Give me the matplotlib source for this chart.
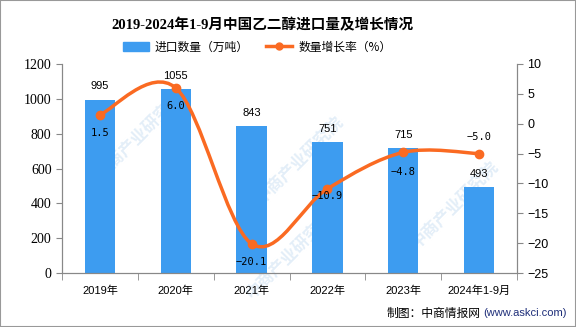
import numpy as np
import matplotlib.pyplot as plt
from matplotlib.path import Path
from matplotlib.patches import PathPatch, Rectangle
from matplotlib.lines import Line2D
from matplotlib.patches import Patch

plt.rcParams['font.family'] = ['Noto Sans CJK SC', 'DejaVu Sans']

categories = ['2019年', '2020年', '2021年', '2022年', '2023年', '2024年1-9月']
imports = [995, 1055, 843, 751, 715, 493]
growth = [1.5, 6.0, -20.1, -10.9, -4.8, -5.0]

bar_color = '#3d9cf0'
line_color = '#fa6a22'

fig = plt.figure(figsize=(5.76, 3.27), dpi=100)

# faint watermarks behind everything
for wx, wy in [(140, 135), (300, 160), (455, 205), (290, 255)]:
    fig.text(wx/576, 1-wy/327, '中商产业研究院', rotation=45, fontsize=12,
             color='#e3eef8', ha='center', va='center', zorder=-1, fontweight='bold')

ax = fig.add_axes([62/576, 1-273/327, 455/576, 209/327])
ax2 = ax.twinx()
ax.patch.set_visible(False)

x = np.arange(len(categories))
ax.bar(x, imports, width=0.4, color=bar_color, zorder=2)
ax.set_xlim(-0.5, len(categories) - 0.5)
ax.set_ylim(0, 1200)
ax.set_yticks(range(0, 1201, 200))
ax2.set_ylim(-25, 10)
ax2.set_yticks(range(-25, 11, 5))

for xi, v in zip(x, imports):
    ax.annotate(str(v), (xi, v), xytext=(0, 6), textcoords='offset points',
                ha='center', va='bottom', fontsize=8, family='Liberation Sans')

# smooth line through the points (Catmull-Rom style bezier)
pts = np.column_stack([x, growth]).astype(float)
verts = [tuple(pts[0])]
codes = [Path.MOVETO]
n = len(pts)
for i in range(n - 1):
    p0 = pts[max(i - 1, 0)]
    p1 = pts[i]
    p2 = pts[i + 1]
    p3 = pts[min(i + 2, n - 1)]
    c1 = p1 + (p2 - p0) / 6
    c2 = p2 - (p3 - p1) / 6
    verts += [tuple(c1), tuple(c2), tuple(p2)]
    codes += [Path.CURVE4] * 3
ax2.add_patch(PathPatch(Path(verts, codes), facecolor='none', edgecolor=line_color,
                        lw=2.5, zorder=3))
ax2.plot(x, growth, 'o', color=line_color, ms=6, zorder=4)

label_offsets = [-13, -13, -13, -5, -14, 12]
for xi, g, dy in zip(x, growth, label_offsets):
    ax2.annotate(f'{g:.1f}'.replace('-', '\u2212'), (xi, g), xytext=(0, dy),
                 textcoords='offset points', ha='center', va='center',
                 fontsize=7.5, family='DejaVu Sans Mono', zorder=5)

gray = '#888888'
for a in (ax, ax2):
    a.spines['top'].set_visible(False)
    for s in ('left', 'right', 'bottom'):
        a.spines[s].set_color(gray)
ax.tick_params(axis='y', colors=gray, labelcolor='black', length=4)
ax2.tick_params(axis='y', colors=gray, labelcolor='black', length=4)
for t in ax.get_yticklabels():
    t.set_family('Liberation Serif')
    t.set_fontsize(10)
for t in ax2.get_yticklabels():
    t.set_family('Liberation Sans')
    t.set_fontsize(9)

ax.set_xticks(x)
ax.set_xticklabels(categories, fontsize=8, family=['Liberation Sans', 'Noto Sans CJK SC'])
ax.tick_params(axis='x', length=0, pad=9)
ax.set_xticks(np.arange(-0.5, len(categories)), minor=True)
ax.tick_params(axis='x', which='minor', length=5, color=gray)

fig.text(262/576, 1-25/327, '2019-2024年1-9月中国乙二醇进口量及增长情况',
         ha='center', va='center', fontsize=10.5, fontweight='bold',
         family=['Liberation Serif', 'Noto Sans CJK SC'])

handles = [Patch(color=bar_color), Line2D([], [], color=line_color, lw=2.5, marker='o', ms=5)]
fig.legend(handles, ['进口数量（万吨）', '数量增长率（%）'], loc='center',
           bbox_to_anchor=(257/576, 1-47/327), ncol=2, frameon=False, fontsize=8.5,
           handlelength=2.2, handleheight=0.8, columnspacing=1.5, handletextpad=0.5)

fig.text(387/576, 1-313/327, '制图：中商情报网', ha='left', va='center', fontsize=8.5)
fig.text(483/576, 1-313/327, '(www.askci.com)', ha='left', va='center', fontsize=8,
         color='#1f2f7a', family='Liberation Sans')

fig.patches.append(Rectangle((0, 0), 1, 1, transform=fig.transFigure, fill=False,
                             edgecolor='#999999', lw=1.5))

fig.savefig('out.png', dpi=100)
